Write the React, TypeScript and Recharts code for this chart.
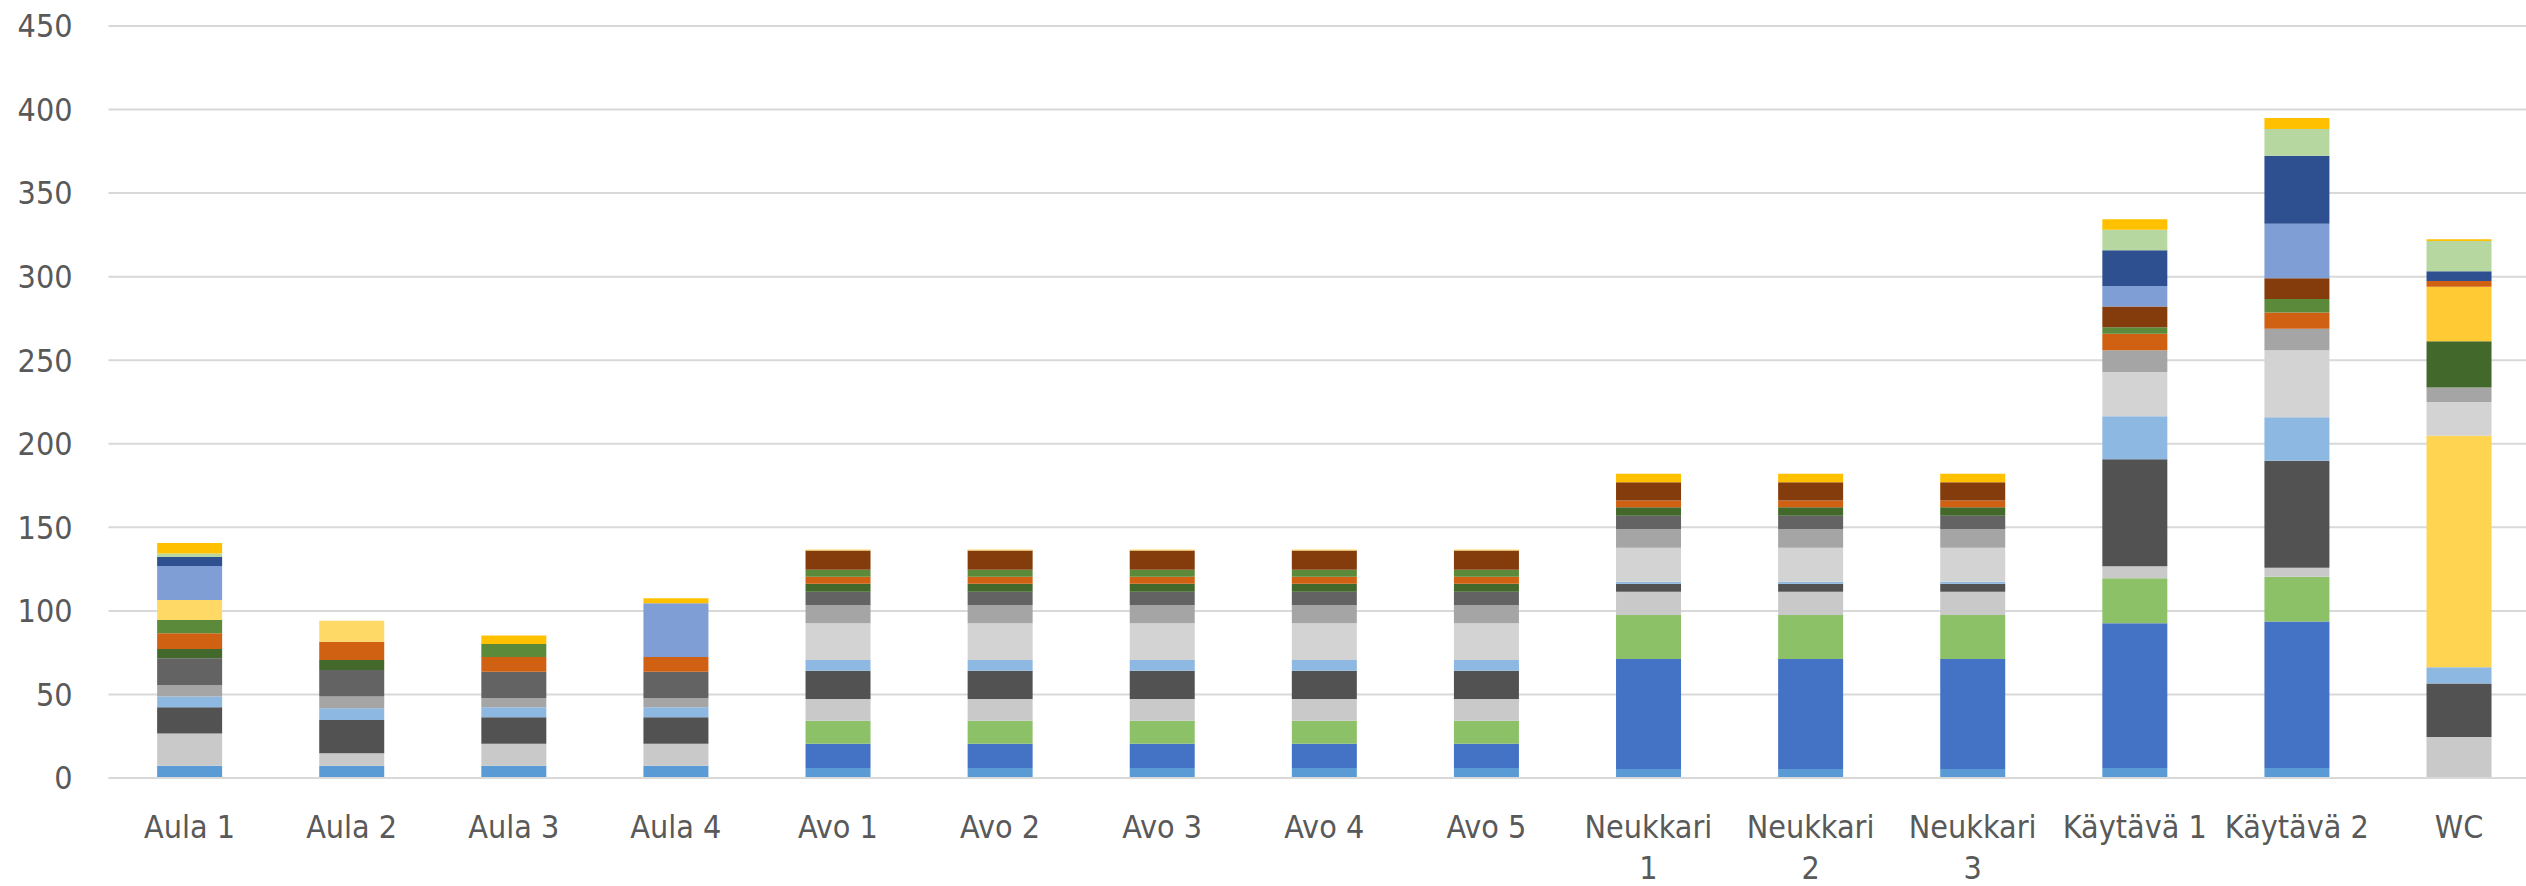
import React from 'react';
import { BarChart, Bar, XAxis, YAxis, CartesianGrid } from 'recharts';

const categories = [
  'Aula 1', 'Aula 2', 'Aula 3', 'Aula 4',
  'Avo 1', 'Avo 2', 'Avo 3', 'Avo 4', 'Avo 5',
  'Neukkari 1', 'Neukkari 2', 'Neukkari 3',
  'Käytävä 1', 'Käytävä 2', 'WC',
];

// one array per stacked series, bottom to top
const lightBlue = [7.4, 7.4, 7.4, 7.4, 6, 6, 6, 6, 6, 5.4, 5.4, 5.4, 6, 6, 0];
const blue = [0, 0, 0, 0, 14.5, 14.5, 14.5, 14.5, 14.5, 65.8, 65.8, 65.8, 86.6, 87.7, 0];
const lightGreen = [0, 0, 0, 0, 13.8, 13.8, 13.8, 13.8, 13.8, 26.3, 26.3, 26.3, 26.9, 26.8, 0];
const silver = [19.3, 7.4, 13.1, 13.1, 13, 13, 13, 13, 13, 14, 14, 14, 7.2, 5.3, 24.6];
const charcoal = [15.6, 19.9, 15.8, 15.8, 16.9, 16.9, 16.9, 16.9, 16.9, 4.8, 4.8, 4.8, 64, 64, 31.9];
const skyBlue = [6.4, 7, 6, 6, 6.4, 6.4, 6.4, 6.4, 6.4, 1.2, 1.2, 1.2, 25.8, 26, 9.8];
const yellowA = [0, 0, 0, 0, 0, 0, 0, 0, 0, 0, 0, 0, 0, 0, 138.5];
const lightGray = [0, 0, 0, 0, 22, 22, 22, 22, 22, 20.3, 20.3, 20.3, 26.5, 40.2, 20.2];
const gray = [6.9, 7, 5.4, 5.4, 10.9, 10.9, 10.9, 10.9, 10.9, 11.2, 11.2, 11.2, 13, 12.8, 8.7];
const dimGray = [16, 15.9, 15.9, 15.9, 8, 8, 8, 8, 8, 8, 8, 8, 0, 0, 0];
const darkGreen = [5.6, 6, 0, 0, 4.8, 4.8, 4.8, 4.8, 4.8, 5, 5, 5, 0, 0, 27.6];
const yellowB = [0, 0, 0, 0, 0, 0, 0, 0, 0, 0, 0, 0, 0, 0, 32.6];
const orange = [9.4, 11, 8.8, 8.8, 4.2, 4.2, 4.2, 4.2, 4.2, 4, 4, 4, 9.8, 9.8, 3.5];
const green = [8, 0, 7.8, 0, 4.1, 4.1, 4.1, 4.1, 4.1, 0, 0, 0, 4, 8.1, 0];
const brown = [0, 0, 0, 0, 11.5, 11.5, 11.5, 11.5, 11.5, 11, 11, 11, 12.3, 12.3, 0];
const yellowC = [11.9, 12.5, 0, 0, 0.7, 0.7, 0.7, 0.7, 0.7, 0, 0, 0, 0, 0, 0];
const periwinkle = [20.4, 0, 0, 32.1, 0, 0, 0, 0, 0, 0, 0, 0, 12.3, 32.7, 0];
const navy = [5.4, 0, 0, 0, 0, 0, 0, 0, 0, 0, 0, 0, 21.4, 40.7, 5.9];
const paleGreen = [2, 0, 0, 0, 0, 0, 0, 0, 0, 0, 0, 0, 12.3, 16, 18];
const gold = [6.3, 0, 5, 3, 0, 0, 0, 0, 0, 5, 5, 5, 6.3, 6.6, 1.1];

const yTicks = [0, 50, 100, 150, 200, 250, 300, 350, 400, 450];

const series = [
  { key: 'lightBlue', values: lightBlue, color: '#5B9BD5' },
  { key: 'blue', values: blue, color: '#4472C4' },
  { key: 'lightGreen', values: lightGreen, color: '#8CC168' },
  { key: 'silver', values: silver, color: '#C9C9C9' },
  { key: 'charcoal', values: charcoal, color: '#525252' },
  { key: 'skyBlue', values: skyBlue, color: '#8DB8E1' },
  { key: 'yellowA', values: yellowA, color: '#FFD450' },
  { key: 'lightGray', values: lightGray, color: '#D3D3D3' },
  { key: 'gray', values: gray, color: '#A5A5A5' },
  { key: 'dimGray', values: dimGray, color: '#636363' },
  { key: 'darkGreen', values: darkGreen, color: '#43682B' },
  { key: 'yellowB', values: yellowB, color: '#FFCA33' },
  { key: 'orange', values: orange, color: '#D06012' },
  { key: 'green', values: green, color: '#5B8A3A' },
  { key: 'brown', values: brown, color: '#843C0C' },
  { key: 'yellowC', values: yellowC, color: '#FFD966' },
  { key: 'periwinkle', values: periwinkle, color: '#7F9ED6' },
  { key: 'navy', values: navy, color: '#2E5090' },
  { key: 'paleGreen', values: paleGreen, color: '#B7D7A0' },
  { key: 'gold', values: gold, color: '#FFC000' },
];

const data = categories.map((name, i) => {
  const row: Record<string, any> = { name };
  series.forEach(s => { row[s.key] = s.values[i]; });
  return row;
});

const FONT = "'Liberation Sans Narrow', 'DejaVu Sans Condensed', sans-serif";
const TEXT = '#595959';

// Excel wrapped the longest labels onto two lines
const XTick = ({ x, y, payload }: any) => {
  const label: string = payload.value;
  const lines = label.length > 9 ? label.split(' ') : [label];
  return (
    <text x={x} y={y + 58} textAnchor="middle" fill={TEXT} fontSize={32} fontFamily={FONT}>
      {lines.map((l, i) => (
        <tspan key={i} x={x} dy={i === 0 ? 0 : 41}>{l}</tspan>
      ))}
    </text>
  );
};

export default function App() {
  return (
    <div style={{ position: 'absolute', left: 0, top: 0, width: 2526, height: 886, overflow: 'hidden', background: '#fff' }}>
      <BarChart
        width={2540}
        height={886}
        data={data}
        margin={{ top: 26, right: 0, left: 0, bottom: 0 }}
        barCategoryGap="30%"
      >
        <CartesianGrid vertical={false} stroke="#D9D9D9" strokeWidth={2} />
        <XAxis
          dataKey="name"
          height={108}
          tickLine={false}
          axisLine={{ stroke: '#D9D9D9', strokeWidth: 2 }}
          tickSize={0}
          tick={<XTick />}
          interval={0}
        />
        <YAxis
          width={108.5}
          domain={[0, 450]}
          ticks={yTicks}
          axisLine={false}
          tickLine={false}
          tickSize={0}
          tickMargin={36}
          tick={{ fill: TEXT, fontSize: 32, fontFamily: FONT }}
        />
        {series.map(s => (
          <Bar key={s.key} dataKey={s.key} stackId="a" fill={s.color} isAnimationActive={false} />
        ))}
      </BarChart>
    </div>
  );
}
